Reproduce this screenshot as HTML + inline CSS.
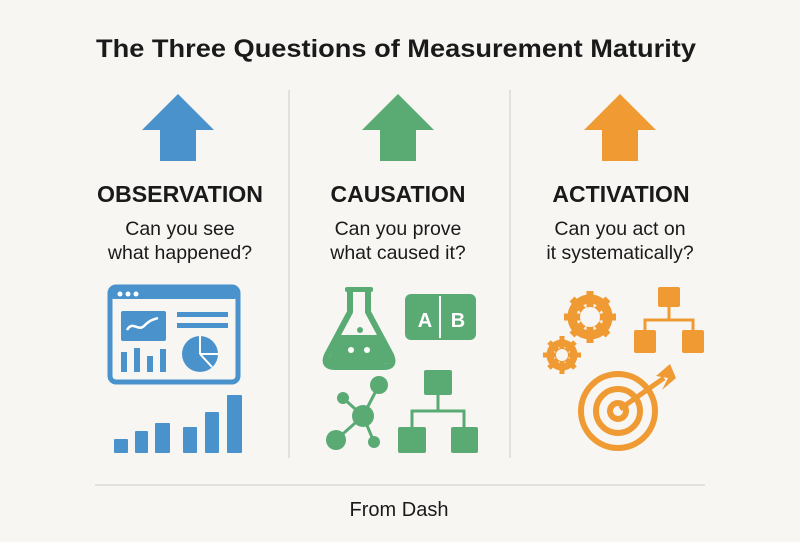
<!DOCTYPE html>
<html><head><meta charset="utf-8"><style>
html,body{margin:0;padding:0;background:#f7f6f3;}
svg{display:block;}
text{font-family:"Liberation Sans",sans-serif;}
</style></head><body>
<svg width="800" height="542" viewBox="0 0 800 542">
<rect width="800" height="542" fill="#f7f6f3"/>
<text x="396" y="57" font-size="25" font-weight="bold" text-anchor="middle" fill="#1a1a1a" textLength="600" lengthAdjust="spacingAndGlyphs">The Three Questions of Measurement Maturity</text>
<line x1="289" y1="90" x2="289" y2="458" stroke="#dcdad5" stroke-width="1.5"/>
<line x1="510" y1="90" x2="510" y2="458" stroke="#dcdad5" stroke-width="1.5"/>
<g fill="#4a92cc"><polygon points="178,94 214,130 196,130 196,161 160,161 160,130 142,130"/></g>
<g fill="#5aaa74"><polygon points="398,94 434,130 416,130 416,161 380,161 380,130 362,130"/></g>
<g fill="#f09a34"><polygon points="620,94 656,130 638,130 638,161 602,161 602,130 584,130"/></g>
<g font-weight="bold" font-size="23" text-anchor="middle" fill="#1a1a1a">
<text x="180" y="202" textLength="166" lengthAdjust="spacingAndGlyphs">OBSERVATION</text><text x="398" y="202">CAUSATION</text><text x="621" y="202">ACTIVATION</text></g>
<g font-size="19.5" text-anchor="middle" fill="#1a1a1a">
<text x="180" y="235">Can you see</text><text x="180" y="259">what happened?</text>
<text x="398" y="235">Can you prove</text><text x="398" y="259">what caused it?</text>
<text x="620" y="235">Can you act on</text><text x="620" y="259">it systematically?</text></g>
<g fill="#4a92cc">
<rect x="110" y="287" width="128" height="95" rx="6" fill="none" stroke="#4a92cc" stroke-width="5"/>
<rect x="110" y="287" width="128" height="12" rx="4"/>
<circle cx="120" cy="294" r="2.5" fill="#fff"/><circle cx="128" cy="294" r="2.5" fill="#fff"/><circle cx="136" cy="294" r="2.5" fill="#fff"/>
<rect x="121" y="311" width="45" height="30" rx="2"/>
<path d="M127,330 C133,320 138,332 144,326 S152,320 158,318" stroke="#fff" stroke-width="2.5" fill="none"/>
<rect x="177" y="312" width="51" height="5"/><rect x="177" y="323" width="51" height="5"/>
<rect x="121" y="352" width="6" height="20"/><rect x="134" y="348" width="6" height="24"/><rect x="147" y="356" width="6" height="16"/><rect x="160" y="349" width="6" height="23"/>
<circle cx="200" cy="354" r="18"/>
<path d="M200,354 L200,336 M200,354 L218,354 M200,354 L212,367" stroke="#fff" stroke-width="2"/>
<rect x="114" y="439" width="14" height="14" rx="1"/><rect x="135" y="431" width="13" height="22" rx="1"/><rect x="155" y="423" width="15" height="30" rx="1"/>
<rect x="183" y="427" width="14" height="26" rx="1"/><rect x="205" y="412" width="14" height="41" rx="1"/><rect x="227" y="395" width="15" height="58" rx="1"/>
</g>
<g fill="#5aaa74">
<path d="M350,290 L350,312 L327,355 Q322,367 335,367 L384,367 Q396,367 391,355 L368,312 L368,290" fill="none" stroke="#5aaa74" stroke-width="6" stroke-linejoin="round"/>
<rect x="345" y="287" width="28" height="5" rx="2"/>
<path d="M340,335 L378,335 L390,358 Q392,364 384,364 L334,364 Q326,364 329,358 Z"/>
<circle cx="360" cy="330" r="3" fill="#5aaa74"/>
<circle cx="351" cy="350" r="3" fill="#fff"/><circle cx="367" cy="350" r="3" fill="#fff"/>
<rect x="405" y="294" width="71" height="46" rx="6"/>
<rect x="439" y="296" width="2" height="42" fill="#fff"/>
<text x="425" y="327" font-size="20" font-weight="bold" fill="#fff" text-anchor="middle">A</text>
<text x="458" y="327" font-size="20" font-weight="bold" fill="#fff" text-anchor="middle">B</text>
<g stroke="#5aaa74" stroke-width="3"><line x1="363" y1="416" x2="336" y2="440"/><line x1="363" y1="416" x2="379" y2="385"/><line x1="363" y1="416" x2="343" y2="398"/><line x1="363" y1="416" x2="374" y2="442"/></g>
<circle cx="363" cy="416" r="11"/><circle cx="336" cy="440" r="10"/><circle cx="379" cy="385" r="9"/><circle cx="343" cy="398" r="6"/><circle cx="374" cy="442" r="6"/>
<rect x="424" y="370" width="28" height="25" rx="2"/>
<path d="M438,395 L438,411 M412,428 L412,411 L464,411 L464,428" stroke="#5aaa74" stroke-width="3" fill="none"/>
<rect x="398" y="427" width="28" height="26" rx="2"/><rect x="451" y="427" width="27" height="26" rx="2"/>
</g>
<g fill="#f09a34">
<circle cx="590" cy="317" r="18" fill="none" stroke="#f09a34" stroke-width="9"/>
<g stroke="#f09a34" stroke-width="7">
<line x1="590" y1="291" x2="590" y2="343"/><line x1="564" y1="317" x2="616" y2="317"/><line x1="572" y1="299" x2="608" y2="335"/><line x1="608" y1="299" x2="572" y2="335"/></g>
<circle cx="590" cy="317" r="10" fill="#f7f6f3"/>
<circle cx="562" cy="355" r="12" fill="none" stroke="#f09a34" stroke-width="7"/>
<g stroke="#f09a34" stroke-width="5"><line x1="562" y1="336" x2="562" y2="374"/><line x1="543" y1="355" x2="581" y2="355"/><line x1="549" y1="342" x2="575" y2="368"/><line x1="575" y1="342" x2="549" y2="368"/></g>
<circle cx="562" cy="355" r="6" fill="#f7f6f3"/>
<rect x="658" y="287" width="22" height="20" rx="2"/>
<path d="M669,307 L669,320 M645,331 L645,320 L693,320 L693,331" stroke="#f09a34" stroke-width="3" fill="none"/>
<rect x="634" y="330" width="22" height="23" rx="2"/><rect x="682" y="330" width="22" height="23" rx="2"/>
<g fill="none" stroke="#f09a34" stroke-width="6">
<circle cx="618" cy="411" r="37"/><circle cx="618" cy="411" r="22"/><circle cx="618" cy="411" r="8"/></g>
<line x1="620" y1="409" x2="664" y2="378" stroke="#f09a34" stroke-width="5"/>
<polygon points="656,376 670,364 676,378 662,390 668,378"/>
</g>
<line x1="95" y1="485" x2="705" y2="485" stroke="#dcdad5" stroke-width="1.5"/>
<text x="399" y="516" font-size="20" text-anchor="middle" fill="#1a1a1a">From Dash</text>
</svg>
</body></html>
